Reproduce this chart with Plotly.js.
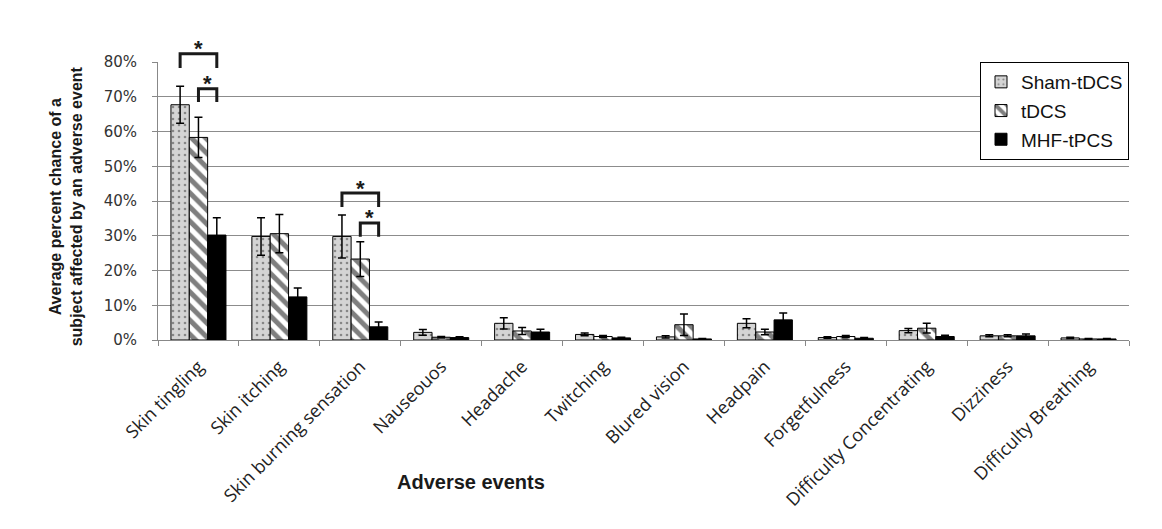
<!DOCTYPE html>
<html>
<head>
<meta charset="utf-8">
<script src="https://cdn.plot.ly/plotly-3.0.1.min.js"></script>
<style>
  html, body { margin: 0; padding: 0; background: #ffffff; }
  #chart { width: 1162px; height: 529px; }
</style>
</head>
<body>
<div id="chart"></div>
<script>
// Adverse events reported per stimulation condition (percent of subjects)
const categories = [
  'Skin tingling', 'Skin itching', 'Skin burning sensation', 'Nauseouos',
  'Headache', 'Twitching', 'Blured vision', 'Headpain', 'Forgetfulness',
  'Difficulty Concentrating', 'Dizziness', 'Difficulty Breathing'
];
const seriesNames = ['Sham-tDCS', 'tDCS', 'MHF-tPCS'];

const shamValues = [67.7, 29.8, 29.8, 2.2, 4.8, 1.6, 0.9, 4.8, 0.7, 2.7, 1.2, 0.6];
const shamErrors = [5.3, 5.4, 6.2, 0.8, 1.6, 0.4, 0.3, 1.3, 0.2, 0.6, 0.3, 0.2];

const tdcsValues = [58.3, 30.6, 23.3, 0.8, 2.6, 1.0, 4.4, 2.3, 1.0, 3.4, 1.2, 0.3];
const tdcsErrors = [5.8, 5.5, 5.0, 0.2, 1.0, 0.3, 3.1, 0.8, 0.3, 1.4, 0.3, 0.1];

const mhfValues = [30.2, 12.4, 3.8, 0.7, 2.3, 0.6, 0.3, 5.8, 0.5, 1.0, 1.2, 0.3];
const mhfErrors = [5.0, 2.6, 1.4, 0.2, 0.8, 0.2, 0.1, 2.0, 0.2, 0.4, 0.5, 0.1];

const yTickValues = [0, 10, 20, 30, 40, 50, 60, 70, 80];
const yTickLabels = ['0%', '10%', '20%', '30%', '40%', '50%', '60%', '70%', '80%'];

// Significant pairwise differences: category index, the two series compared
const comparisons = [
  { cat: 0, from: 0, to: 2, label: '*' },
  { cat: 0, from: 1, to: 2, label: '*' },
  { cat: 2, from: 0, to: 2, label: '*' },
  { cat: 2, from: 1, to: 2, label: '*' }
];
// bracket heights (top line, leg ends) in axis units, one per comparison
const bracketLevels = [[82.4, 78.3], [72.3, 68.5], [42.3, 38.3], [33.7, 29.7]];

const Y_MAX = 80;
const BAR_GAP = 0.32;
const BAR_W = (1 - BAR_GAP) / seriesNames.length;

const errStyle = (arr) => ({
  type: 'data', array: arr, visible: true,
  color: '#000000', thickness: 1.5, width: 4
});

const traces = [
  {
    type: 'bar', name: seriesNames[0], x: categories, y: shamValues,
    error_y: errStyle(shamErrors), legendgroup: 'g1',
    marker: {
      color: '#d4d4d4',
      line: { color: '#000000', width: 1 },
      pattern: { shape: '.', bgcolor: '#d4d4d4', fgcolor: '#3a3a3a', size: 6, solidity: 0.15, fillmode: 'overlay' }
    }
  },
  {
    type: 'bar', name: seriesNames[1], x: categories, y: tdcsValues,
    error_y: errStyle(tdcsErrors), legendgroup: 'g2',
    marker: {
      color: '#ffffff',
      line: { color: '#000000', width: 1 },
      pattern: { shape: '\\', bgcolor: '#ffffff', fgcolor: '#000000', size: 10, solidity: 0.5, fillmode: 'overlay' }
    }
  },
  {
    type: 'bar', name: seriesNames[2], x: categories, y: mhfValues,
    error_y: errStyle(mhfErrors), legendgroup: 'g3',
    marker: { color: '#000000', line: { color: '#000000', width: 1 } }
  }
];

// paper-space helpers for the bracket overlay
const nCat = categories.length;
const xPaper = (cat, s) => (cat + 0.5 + (s - (seriesNames.length - 1) / 2) * BAR_W) / nCat;
const yPaper = (v) => v / Y_MAX;

const shapes = [];
const annotations = [];
comparisons.forEach((c, i) => {
  const [top, leg] = bracketLevels[i];
  const x0 = xPaper(c.cat, c.from), x1 = xPaper(c.cat, c.to);
  const yt = yPaper(top), yl = yPaper(leg);
  shapes.push({
    type: 'path', xref: 'paper', yref: 'paper',
    path: `M ${x0} ${yl} L ${x0} ${yt} L ${x1} ${yt} L ${x1} ${yl}`,
    line: { color: '#1a1a1a', width: 3 }
  });
  annotations.push({
    xref: 'paper', yref: 'paper', x: (x0 + x1) / 2, y: yt,
    text: '<b>' + c.label + '</b>', showarrow: false,
    xanchor: 'center', yanchor: 'middle', yshift: 5,
    font: { family: 'Liberation Sans, Arial, sans-serif', size: 22, color: '#1a1a1a' }
  });
});

annotations.push({
  xref: 'paper', yref: 'paper', x: 0.322, y: -0.511,
  text: '<b>Adverse events</b>', showarrow: false,
  xanchor: 'center', yanchor: 'middle',
  font: { family: 'Liberation Sans, Arial, sans-serif', size: 20, color: '#1a1a1a' }
});
annotations.push({
  xref: 'paper', yref: 'paper', x: -0.095, y: 0.48,
  text: '<b>Average percent chance of a<br>subject affected by an adverse event</b>',
  showarrow: false, textangle: -90, xanchor: 'center', yanchor: 'middle',
  font: { family: 'Liberation Sans, Arial, sans-serif', size: 16, color: '#1a1a1a' }
});

const layout = {
  width: 1162, height: 529,
  margin: { l: 158, r: 33, t: 62, b: 189 },
  paper_bgcolor: '#ffffff', plot_bgcolor: '#ffffff',
  barmode: 'group', bargap: BAR_GAP, bargroupgap: 0,
  showlegend: true,
  legend: {
    x: 1, xanchor: 'right', y: 1, yanchor: 'top',
    bordercolor: '#000000', borderwidth: 1, bgcolor: '#ffffff',
    traceorder: 'grouped', tracegroupgap: 1, itemwidth: 30,
    font: { family: 'Liberation Sans, Arial, sans-serif', size: 19, color: '#111111' }
  },
  xaxis: {
    type: 'category', tickangle: -45, tickson: 'boundaries',
    ticks: 'outside', ticklen: 5, tickcolor: '#888888', ticklabelstandoff: 8,
    showline: true, linecolor: '#888888', linewidth: 1,
    showgrid: false, automargin: false,
    tickfont: { family: 'Open Sans, sans-serif', size: 18, color: '#222222' }
  },
  yaxis: {
    range: [0, Y_MAX], tickvals: yTickValues, ticktext: yTickLabels,
    ticks: 'outside', ticklen: 5, tickcolor: '#888888', ticklabelstandoff: 12,
    showline: true, linecolor: '#888888', linewidth: 1,
    showgrid: true, gridcolor: '#8c8c8c', gridwidth: 1,
    zeroline: false, automargin: false,
    tickfont: { family: 'DejaVu Sans, Verdana, sans-serif', size: 15, color: '#333333' }
  },
  shapes: shapes,
  annotations: annotations
};

Plotly.newPlot('chart', traces, layout, { displayModeBar: false, staticPlot: true });
</script>
</body>
</html>
